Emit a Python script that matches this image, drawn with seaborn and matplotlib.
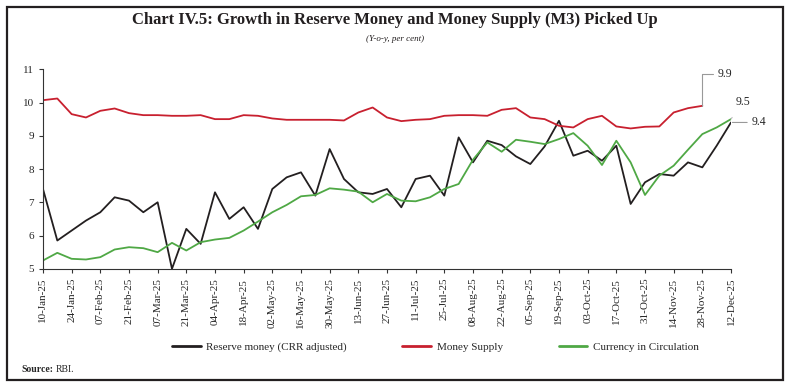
import pandas as pd
import numpy as np
import matplotlib
matplotlib.use('Agg')
import matplotlib.pyplot as plt
import matplotlib.dates as mdates
from matplotlib.patches import Rectangle
import seaborn as sns

# weekly Fridays, 10-Jan-25 to 12-Dec-25
dates = pd.date_range('2025-01-10', '2025-12-12', freq='7D')

reserve_money = [7.40, 5.85, 6.15, 6.45, 6.70, 7.15, 7.05, 6.70, 7.00, 5.00,
                 6.20, 5.75, 7.30, 6.50, 6.85, 6.20, 7.40, 7.75, 7.90, 7.20,
                 8.60, 7.70, 7.30, 7.25, 7.40, 6.85, 7.70, 7.80, 7.20, 8.95,
                 8.20, 8.85, 8.72, 8.38, 8.15, 8.68, 9.45, 8.40, 8.55, 8.25,
                 8.70, 6.95, 7.60, 7.85, 7.80, 8.20, 8.05, 8.70, 9.40]

money_supply = [10.07, 10.12, 9.65, 9.55, 9.75, 9.82, 9.68, 9.62, 9.62, 9.60,
                9.60, 9.62, 9.50, 9.50, 9.62, 9.60, 9.52, 9.48, 9.48, 9.48,
                9.48, 9.46, 9.70, 9.85, 9.55, 9.44, 9.48, 9.50, 9.60, 9.62,
                9.62, 9.60, 9.78, 9.83, 9.55, 9.50, 9.30, 9.25, 9.50, 9.60,
                9.28, 9.22, 9.27, 9.28, 9.70, 9.83, 9.90]

currency = [5.25, 5.48, 5.30, 5.28, 5.35, 5.58, 5.65, 5.62, 5.50, 5.78,
            5.55, 5.80, 5.88, 5.93, 6.15, 6.42, 6.70, 6.92, 7.18, 7.22,
            7.42, 7.38, 7.32, 7.00, 7.25, 7.05, 7.03, 7.15, 7.40, 7.55,
            8.28, 8.80, 8.52, 8.88, 8.82, 8.75, 8.90, 9.08, 8.70, 8.12,
            8.85, 8.20, 7.22, 7.80, 8.10, 8.58, 9.05, 9.25, 9.50]

series_names = ['Reserve money (CRR adjusted)', 'Money Supply', 'Currency in Circulation']
colors = ['#231f20', '#c8202f', '#4fa845']

df = pd.concat([
    pd.DataFrame({'date': dates, 'value': reserve_money, 'series': series_names[0]}),
    pd.DataFrame({'date': dates[:len(money_supply)], 'value': money_supply, 'series': series_names[1]}),
    pd.DataFrame({'date': dates, 'value': currency, 'series': series_names[2]}),
])

sns.set_style('white')
plt.rcParams['font.family'] = ['Liberation Serif', 'DejaVu Serif']

fig = plt.figure(figsize=(7.9, 3.89), dpi=100)
ax = fig.add_axes([0.0544, 0.309, 0.8709, 0.513])

sns.lineplot(data=df, x='date', y='value', hue='series', hue_order=series_names,
             palette=colors, linewidth=1.3, ax=ax, legend=False)

ax.set_xlim(dates[0], dates[-1])
ax.set_ylim(5, 11)
ax.set_yticks(range(5, 12))
ax.set_xticks(dates[::2])
ax.xaxis.set_major_formatter(mdates.DateFormatter('%d-%b-%y'))
ax.tick_params(axis='x', rotation=90, labelsize=8, length=3, width=0.8, color='#333333', direction='out', bottom=True)
ax.tick_params(axis='y', labelsize=8, length=3, width=0.8, color='#333333', direction='out', left=True)
ax.set_xlabel('')
ax.set_ylabel('')
for s in ['top', 'right']:
    ax.spines[s].set_visible(False)
for s in ['left', 'bottom']:
    ax.spines[s].set_color('#333333')
    ax.spines[s].set_linewidth(0.8)

# end-point labels
ax.annotate(f'{money_supply[-1]:.1f}', xy=(dates[len(money_supply) - 1], money_supply[-1]),
            xytext=(11, 23), textcoords='offset points', fontsize=8.5, va='center', ha='left',
            arrowprops=dict(arrowstyle='-', color='#999999', lw=0.8, shrinkA=1, shrinkB=0,
                            connectionstyle='angle,angleA=0,angleB=90,rad=0'))
ax.annotate(f'{currency[-1]:.1f}', xy=(dates[-1], currency[-1]),
            xytext=(3, 12), textcoords='offset points', fontsize=8.5, va='center', ha='left',
            arrowprops=dict(arrowstyle='-', color='#bbbbbb', lw=0.8, shrinkA=5, shrinkB=0))
ax.annotate(f'{reserve_money[-1]:.1f}', xy=(dates[-1], reserve_money[-1]),
            xytext=(15, 0), textcoords='offset points', fontsize=8.5, va='center', ha='left',
            arrowprops=dict(arrowstyle='-', color='#999999', lw=0.8, shrinkA=1, shrinkB=1))

fig.text(0.5, 0.948, 'Chart IV.5: Growth in Reserve Money and Money Supply (M3) Picked Up',
         ha='center', va='center', fontsize=12, fontweight='bold', color='#231f20')
fig.text(0.5, 0.9, '(Y-o-y, per cent)', ha='center', va='center', fontsize=6.5,
         style='italic', color='#231f20')

handles = [plt.Line2D([], [], color=c, lw=2) for c in colors]
fig.legend(handles, series_names, loc='center', bbox_to_anchor=(0.551, 0.108), ncol=3,
           frameon=False, fontsize=8, handlelength=2.6, columnspacing=5.0, handletextpad=0.5)

fig.text(0.027, 0.051, 'Source:', fontsize=7, fontweight='bold', va='center', ha='left')
fig.text(0.07, 0.051, 'RBI.', fontsize=7, va='center', ha='left')

fig.patches.append(Rectangle((0.009, 0.022), 0.982, 0.96, transform=fig.transFigure,
                             fill=False, edgecolor='#231f20', linewidth=1.6))

fig.savefig('out.png', dpi=100)
